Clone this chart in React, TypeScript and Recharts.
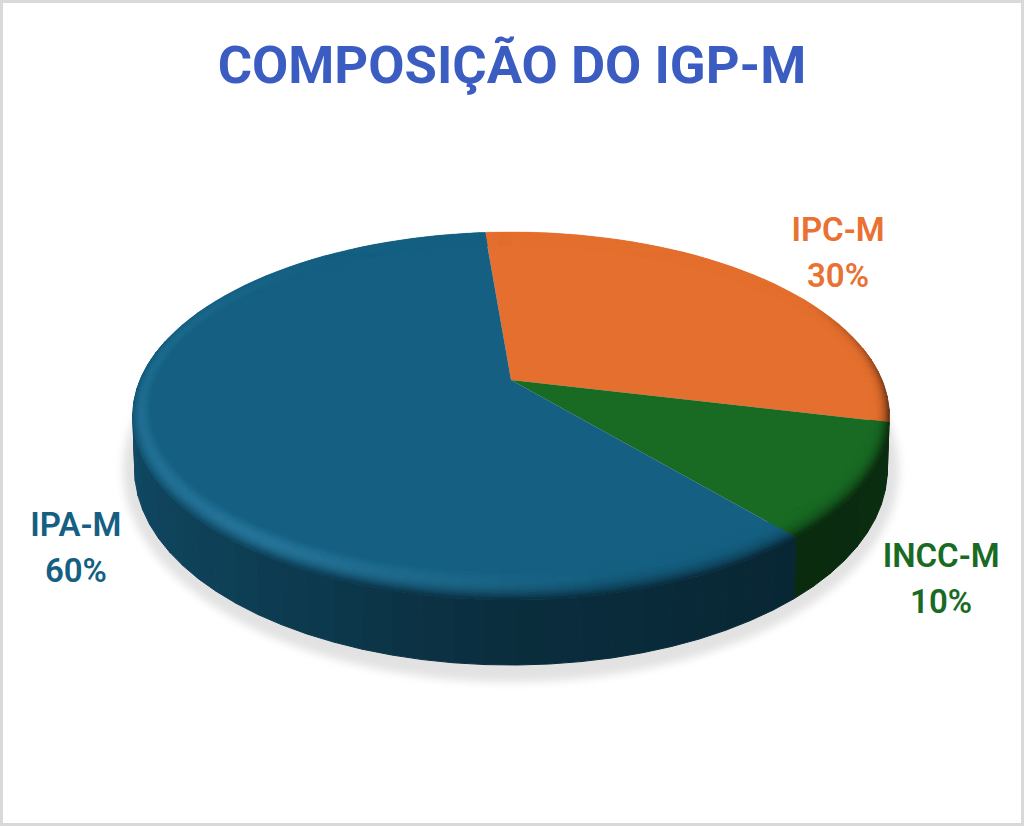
import React from "react";
import { PieChart, Pie } from "recharts";

const TITLE = "COMPOSIÇÃO DO IGP-M";
const categories = ["IPC-M", "INCC-M", "IPA-M"];
const shares = [30, 10, 60];
const colors = ["#E46F2E", "#196B24", "#156082"];
const labelColors = ["#E97132", "#196B24", "#156082"];
const rows = categories.map((name, i) => ({ name, value: shares[i], fill: colors[i], labelFill: labelColors[i] }));

const FONT = "Roboto, sans-serif";
const W = 1024, H = 826;
const CX = 511, CY = 380, R = 371;
// perspective tilt of the disc
const TILT = -0.1957, SQUASH = 102.6 / 371;

const LABEL_SHIFT: Record<string, [number, number]> = {
  "IPC-M": [78, -36],
  "INCC-M": [77, 85],
  "IPA-M": [-65, 82],
};

const rad = (d: number) => (d * Math.PI) / 180;
const clamp = (x: number) => Math.max(0, Math.min(1, x));
const proj = (cx: number, cy: number, r: number, th: number, k = 1): [number, number] => {
  const u = Math.sin(rad(th)) * k, v = -Math.cos(rad(th)) * k;
  const w = 1 + TILT * v;
  return [cx + (r * u) / w, (cy + r * SQUASH * v) / w];
};
// radial scale of the inner edge of the bevel along a ray (narrow at the sides, wide in front)
const ringScale = (th: number, t: number) => {
  const ku = 1 - 0.045 * (1 - t), kv = 1 - 0.11 * (1 - t);
  const s = Math.sin(rad(th)), c = Math.cos(rad(th));
  return 1 / Math.sqrt((s / ku) ** 2 + (c / kv) ** 2);
};
const depthAt = (th: number) => 50 + 15 * Math.max(0, -Math.cos(rad(th)));
const lowPt = (cx: number, cy: number, r: number, th: number): [number, number] => {
  const [x, y] = proj(cx, cy, r, th);
  return [cx + (x - cx) * 0.995, y + depthAt(th)];
};
const hex = (c: string) => [1, 3, 5].map((i) => parseInt(c.slice(i, i + 2), 16));
const mix = (a: number[], b: number[], t: number) => a.map((v, i) => v + (b[i] - v) * t);
const rgb = (c: number[]) => `rgb(${c.map((v) => Math.round(v)).join(",")})`;
const poly = (pts: [number, number][]) => "M" + pts.map((p) => `${p[0].toFixed(1)},${p[1].toFixed(1)}`).join("L") + "Z";
const norm = (a: number) => ((a % 360) + 360) % 360;

function sideFactor(th: number) {
  const stops: [number, number][] = [[90, 0.42], [140, 0.4], [180, 0.47], [220, 0.66], [270, 0.8], [280, 0.82]];
  if (th <= stops[0][0]) return stops[0][1];
  for (let i = 1; i < stops.length; i++) {
    if (th <= stops[i][0]) {
      const [a, fa] = stops[i - 1], [b, fb] = stops[i];
      return fa + ((fb - fa) * (th - a)) / (b - a);
    }
  }
  return 0.82;
}

function DiscSector(props: any) {
  const { cx, cy, outerRadius: r, startAngle, endAngle, fill } = props;
  const base = hex(fill);
  // library angles run counter-clockwise from 3 o'clock; here clockwise from 12 o'clock
  const a0 = 90 - Math.max(startAngle, endAngle);
  const a1 = 90 - Math.min(startAngle, endAngle);
  const STEP = 2.5;
  const RINGS = 16;
  const cuts: number[] = [];
  for (let a = a0; a < a1; a += STEP) cuts.push(a);
  cuts.push(a1);

  const rim: [number, number][] = [[cx, cy]];
  cuts.forEach((a) => rim.push(proj(cx, cy, r, a)));

  // side wall, one path per shading band
  const side: React.ReactNode[] = [];
  const BAND = 4;
  for (let s = a0; s < a1; s += BAND) {
    const e = Math.min(a1, s + BAND);
    const mid = norm((s + e) / 2);
    if (mid < 80 || mid > 285) continue;
    const c = rgb(base.map((v) => v * sideFactor(mid)));
    const top: [number, number][] = [proj(cx, cy, r, s), proj(cx, cy, r, e)];
    const low: [number, number][] = [lowPt(cx, cy, r, e), lowPt(cx, cy, r, s)];
    side.push(<path key={`s${s}`} d={poly([...top, ...low])} fill={c} stroke={c} strokeWidth={1} />);
  }

  // bevel rings cut in short steps
  const bevel: React.ReactNode[] = [];
  for (let i = 0; i < cuts.length - 1; i++) {
    const a = cuts[i], b = cuts[i + 1];
    const th = norm((a + b) / 2);
    const sc = base.map((v) => v * sideFactor(th));
    const hi = 0.8 * (th < 215 ? clamp((th - 165) / 50) : clamp((325 - th) / 110));
    const darkIn = th < 180 ? clamp((th - 60) / 40) : clamp((300 - th) / 100);
    const light = mix(base, [70, 160, 205], 0.55);
    for (let k = 0; k < RINGS; k++) {
      const t0 = k / RINGS, t1 = (k + 1) / RINGS, t = (t0 + t1) / 2;
      let c = mix(base, light, hi * Math.sin(Math.PI * Math.pow(t, 1.3)));
      c = mix(c, sc, darkIn * Math.pow(t, 3));
      const d = poly([
        proj(cx, cy, r, a, ringScale(a, t0)), proj(cx, cy, r, b, ringScale(b, t0)),
        proj(cx, cy, r, b, ringScale(b, t1)), proj(cx, cy, r, a, ringScale(a, t1)),
      ]);
      bevel.push(<path key={`b${i}-${k}`} d={d} fill={rgb(c)} stroke={rgb(c)} strokeWidth={0.4} />);
    }
  }
  return (
    <g>
      {side}
      <path d={poly(rim)} fill={fill} />
      {bevel}
    </g>
  );
}

function renderLabel(props: any) {
  const { cx, cy, outerRadius, midAngle, name, value, payload } = props;
  const [x, y] = proj(cx, cy, outerRadius, 90 - midAngle);
  const [dx, dy] = LABEL_SHIFT[name] || [0, 0];
  const fill = payload?.labelFill ?? props.labelFill;
  return (
    <text x={x + dx} y={y + dy} textAnchor="middle" fill={fill} fontFamily={FONT} fontWeight={600} fontSize={33}>
      <tspan x={x + dx} dy={0}>{name}</tspan>
      <tspan x={x + dx} dy={46}>{`${value}%`}</tspan>
    </text>
  );
}

export default function App() {
  return (
    <div style={{ position: "absolute", left: 0, top: 0, width: W, height: H, background: "#fff", overflow: "hidden" }}>
      <PieChart width={W} height={H} margin={{ top: 0, right: 0, bottom: 0, left: 0 }}>
        <defs>
          <filter id="discShadow" x="-10%" y="-10%" width="120%" height="120%">
            <feGaussianBlur stdDeviation="4" />
          </filter>
        </defs>
        <ellipse cx={511} cy={470} rx={388} ry={212} fill="#e2e2e2" filter="url(#discShadow)" />
        <text x={512} y={83} textAnchor="middle" fill="#3B5CC0" fontFamily={FONT} fontWeight={700} fontSize={52.6}>
          {TITLE}
        </text>
        <Pie
          data={rows}
          dataKey="value"
          nameKey="name"
          cx={CX}
          cy={CY}
          innerRadius={0}
          outerRadius={R}
          startAngle={94.8}
          endAngle={-265.2}
          paddingAngle={0}
          stroke="none"
          isAnimationActive={false}
          shape={DiscSector}
          label={renderLabel}
          labelLine={false}
        />
      </PieChart>
      <div style={{ position: "absolute", inset: 0, border: "3px solid #d9d9d9", boxSizing: "border-box", pointerEvents: "none" }} />
    </div>
  );
}
